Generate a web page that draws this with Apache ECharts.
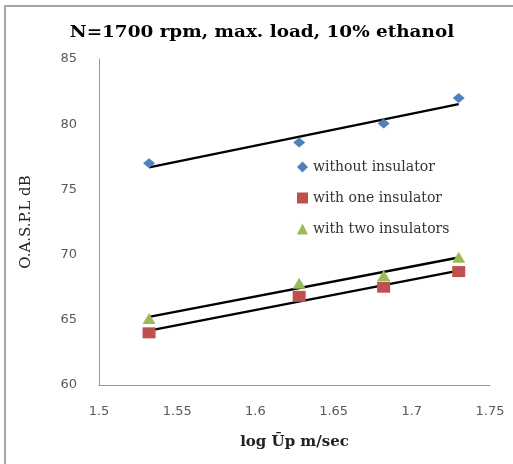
<!DOCTYPE html>
<html>
<head>
<meta charset="utf-8">
<script src="https://cdn.jsdelivr.net/npm/echarts@6/dist/echarts.min.js"></script>
<style>
  html, body { margin: 0; padding: 0; background: #fff; }
  #chart { width: 513px; height: 464px; }
</style>
</head>
<body>
<div id="chart"></div>
<script>
// Mean piston speed (log scale values) at which noise was measured
const logSpeed = [1.532, 1.628, 1.682, 1.730];

// Overall sound pressure level, dB
const withoutInsulator = [77.0, 78.6, 80.05, 82.0];
const withOneInsulator = [64.0, 66.8, 67.5, 68.7];
const withTwoInsulators = [65.1, 67.8, 68.4, 69.8];

const seriesNames = ['without insulator', 'with one insulator', 'with two insulators'];
const xTicks = [1.5, 1.55, 1.6, 1.65, 1.7, 1.75];
const yTicks = [60, 65, 70, 75, 80, 85];
const chartTitle = 'N=1700 rpm, max. load, 10% ethanol';

// Least-squares straight line through a set of points, drawn across the data span
function linearFit(xs, ys) {
  const n = xs.length;
  const mx = xs.reduce((a, b) => a + b, 0) / n;
  const my = ys.reduce((a, b) => a + b, 0) / n;
  let sxy = 0, sxx = 0;
  for (let i = 0; i < n; i++) {
    sxy += (xs[i] - mx) * (ys[i] - my);
    sxx += (xs[i] - mx) * (xs[i] - mx);
  }
  const slope = sxy / sxx;
  const x0 = Math.min(...xs), x1 = Math.max(...xs);
  return [[x0, my + slope * (x0 - mx)], [x1, my + slope * (x1 - mx)]];
}

const pairs = (ys) => logSpeed.map((x, i) => [x, ys[i]]);

const serif = '"DejaVu Serif", "Liberation Serif", serif';
const tickFont = { fontFamily: '"DejaVu Sans", sans-serif', fontSize: 13, color: '#595959' };

const trend = (ys) => ({
  type: 'line',
  data: linearFit(logSpeed, ys),
  symbol: 'none',
  lineStyle: { color: '#000', width: 2.4 },
  silent: true,
  z: 3
});

const chart = echarts.init(document.getElementById('chart'));
chart.setOption({
  animation: false,
  backgroundColor: '#fff',
  graphic: [
    {
      type: 'rect',
      shape: { x: 5, y: 6, width: 600, height: 600 },
      style: { fill: 'none', stroke: '#a6a6a6', lineWidth: 2 },
      silent: true
    },
    {
      // chart heading, widened slightly
      type: 'text',
      x: 262,
      y: 33,
      scaleX: 1.15,
      style: {
        text: chartTitle,
        align: 'center',
        verticalAlign: 'middle',
        fontFamily: serif,
        fontWeight: 'bold',
        fontSize: 16,
        fill: '#000'
      },
      silent: true
    }
  ],
  legend: {
    orient: 'vertical',
    left: 292,
    top: 155,
    itemGap: 17,
    itemWidth: 11,
    itemHeight: 11,
    textStyle: { fontFamily: serif, fontSize: 14, color: '#333' },
    data: [
      { name: seriesNames[0], icon: 'diamond' },
      { name: seriesNames[1], icon: 'rect' },
      { name: seriesNames[2], icon: 'triangle' }
    ]
  },
  grid: { left: 99, right: 23, top: 59, bottom: 79 },
  xAxis: {
    type: 'value',
    min: xTicks[0],
    max: xTicks[xTicks.length - 1],
    interval: 0.05,
    name: 'log Ūp m/sec',
    nameLocation: 'middle',
    nameGap: 50,
    nameTextStyle: { fontFamily: serif, fontWeight: 'bold', fontSize: 15, color: '#222' },
    axisLine: { lineStyle: { color: '#9a9a9a', width: 1 } },
    axisTick: { show: false },
    splitLine: { show: false },
    axisLabel: Object.assign({ margin: 20, formatter: (v) => String(+v.toFixed(2)) }, tickFont)
  },
  yAxis: {
    type: 'value',
    min: yTicks[0],
    max: yTicks[yTicks.length - 1],
    interval: 5,
    name: 'O.A.S.P.L dB',
    nameLocation: 'middle',
    nameGap: 65,
    nameTextStyle: { fontFamily: serif, fontSize: 15, color: '#222' },
    axisLine: { show: true, lineStyle: { color: '#9a9a9a', width: 1 } },
    axisTick: { show: false },
    splitLine: { show: false },
    axisLabel: Object.assign({ margin: 22 }, tickFont)
  },
  series: [
    {
      name: seriesNames[0], type: 'scatter', data: pairs(withoutInsulator),
      symbol: 'diamond', symbolSize: [12, 10], itemStyle: { color: '#4f81bd', opacity: 1 }, z: 4
    },
    {
      name: seriesNames[1], type: 'scatter', data: pairs(withOneInsulator),
      symbol: 'rect', symbolSize: [13, 11], itemStyle: { color: '#c0504d', opacity: 1 }, z: 4
    },
    {
      name: seriesNames[2], type: 'scatter', data: pairs(withTwoInsulators),
      symbol: 'triangle', symbolSize: [13, 11], itemStyle: { color: '#9bbb59', opacity: 1 }, z: 4
    },
    trend(withoutInsulator),
    trend(withOneInsulator),
    trend(withTwoInsulators)
  ]
});
</script>
</body>
</html>
